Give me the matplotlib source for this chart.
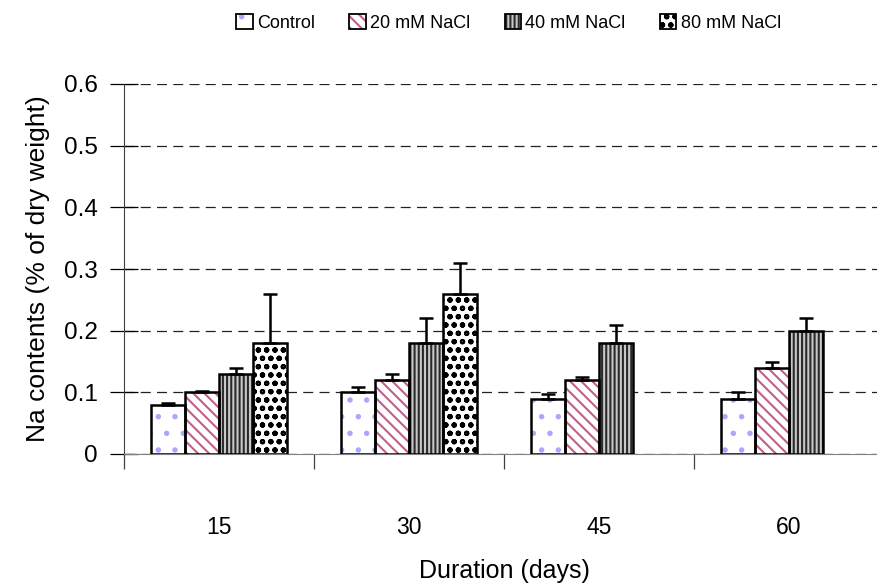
import numpy as np
import matplotlib
matplotlib.use("Agg")
import matplotlib.pyplot as plt
from matplotlib.patches import Patch
from matplotlib.legend_handler import HandlerTuple

days = ["15", "30", "45", "60"]
treatments = ["Control", "20 mM NaCl", "40 mM NaCl", "80 mM NaCl"]
control = [0.08, 0.10, 0.09, 0.09]
nacl20 = [0.10, 0.12, 0.12, 0.14]
nacl40 = [0.13, 0.18, 0.18, 0.20]
nacl80 = [0.18, 0.26, np.nan, np.nan]
err_control = [0.002, 0.009, 0.007, 0.01]
err_nacl20 = [0.002, 0.01, 0.005, 0.01]
err_nacl40 = [0.01, 0.04, 0.03, 0.02]
err_nacl80 = [0.08, 0.05, np.nan, np.nan]

plt.rcParams['font.family'] = ['Liberation Sans', 'DejaVu Sans']
plt.rcParams['hatch.linewidth'] = 1.5

# fill, hatch, hatch colour for each treatment
styles = [
    ("white", ".", "#a8a8ff"),
    ("white", "\\\\\\", "#c0608a"),
    ("#c8c8c8", "||||", "#2a2a2a"),
    ("white", "oo", "black"),
]
values = [control, nacl20, nacl40, nacl80]
errors = [err_control, err_nacl20, err_nacl40, err_nacl80]

fig = plt.figure(figsize=(8.77, 5.85), dpi=100)
ax = fig.add_axes([124 / 877, 131 / 585, 760 / 877, 370 / 585])

x = np.arange(len(days))
w = 0.18
for i, (vals, errs, (fc, hatch, hc)) in enumerate(zip(values, errors, styles)):
    pos = x - 1.5 * w + i * w
    ax.bar(pos, vals, w, color=fc, hatch=hatch, edgecolor=hc, linewidth=0, zorder=2)
    ax.bar(pos, vals, w, fill=False, edgecolor="black", linewidth=1.8, zorder=3)
    ax.errorbar(pos, vals, yerr=[np.zeros(len(errs)), errs], fmt="none",
                ecolor="black", elinewidth=1.8, capsize=5, capthick=1.8, zorder=3)

ax.set_xlim(-0.5, len(days) - 0.5)
ax.set_ylim(0, 0.6)
ax.set_yticks(np.arange(0, 0.61, 0.1))
ax.set_yticklabels(["0", "0.1", "0.2", "0.3", "0.4", "0.5", "0.6"])
ax.yaxis.grid(True, linestyle=(0, (8, 5)), color="#222222", linewidth=0.9, zorder=0)
ax.set_axisbelow(True)

ax.set_xticks(x)
ax.set_xticklabels(days)
ax.set_xticks(np.arange(-0.5, len(days), 1.0), minor=True)
ax.tick_params(axis="x", which="major", length=0, pad=45, labelsize=16.5)
ax.tick_params(axis="x", which="minor", length=11, width=0.9, direction="out", color="#404040")
ax.tick_params(axis="y", length=20, width=0.9, direction="inout", pad=9, labelsize=17.5)

for s in ["top", "right"]:
    ax.spines[s].set_visible(False)
ax.spines["left"].set_color("#404040")
ax.spines["bottom"].set_color("#808080")

ax.set_ylabel("Na contents (% of dry weight)", fontsize=19, labelpad=10)
ax.set_xlabel("Duration (days)", fontsize=18, labelpad=14)

# legend keys: hatched fill plus a black outline
handles = []
for fc, h, hc in styles:
    fill = Patch(facecolor=fc, hatch=h, edgecolor=hc, linewidth=0)
    edge = Patch(fill=False, edgecolor="black", linewidth=1.3)
    handles.append((fill, edge))
fig.legend(handles, treatments, loc="upper center", bbox_to_anchor=(0.58, 1.003),
           ncol=4, frameon=False, fontsize=13, handlelength=0.9, handleheight=0.9,
           handletextpad=0.25, columnspacing=1.9,
           handler_map={tuple: HandlerTuple(ndivide=1, pad=0)})

fig.savefig("out.png", dpi=100)
